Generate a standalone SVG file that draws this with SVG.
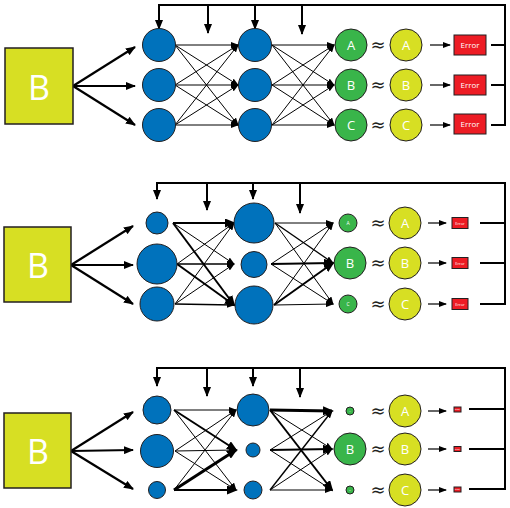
<svg xmlns="http://www.w3.org/2000/svg" width="510" height="508" viewBox="0 0 510 508">
<defs>
<style>
.box{fill:#d7df23;stroke:#231f20;stroke-width:1.5}
.bl{fill:#0072bc;stroke:#231f20;stroke-width:1}
.gr{fill:#39b54a;stroke:#231f20;stroke-width:1}
.ye{fill:#d7df23;stroke:#231f20;stroke-width:1}
.er{fill:#ed1c24;stroke:#231f20;stroke-width:1}
.t{font-family:"Open Sans","Liberation Sans",sans-serif;fill:#ffffff;text-anchor:middle}
.ap{font-family:"DejaVu Sans","Liberation Sans",sans-serif;fill:#231f20;text-anchor:middle;font-size:18px}
.c{stroke:#000;fill:none;stroke-width:1;marker-end:url(#ah)}
.ck{stroke:#000;fill:none;stroke-width:2;marker-end:url(#ahb)}
.cm{stroke:#000;fill:none;stroke-width:1.4;marker-end:url(#ah)}
.cv{stroke:#000;fill:none;stroke-width:3;marker-end:url(#ahb)}
.ba{stroke:#000;fill:none;stroke-width:2.2;marker-end:url(#ahB)}
.fb{stroke:#000;fill:none;stroke-width:2}
.fd{stroke:#000;fill:none;stroke-width:2;marker-end:url(#ahB)}
.sa{stroke:#000;fill:none;stroke-width:1.2;marker-end:url(#ah)}
</style>
<marker id="ah" markerUnits="userSpaceOnUse" markerWidth="8" markerHeight="6" refX="7" refY="3" orient="auto"><path d="M0,0L8,3L0,6z" fill="#000"/></marker>
<marker id="ahb" markerUnits="userSpaceOnUse" markerWidth="11" markerHeight="9" refX="9" refY="4.5" orient="auto"><path d="M0,0L11,4.5L0,9z" fill="#000"/></marker>
<marker id="ahB" markerUnits="userSpaceOnUse" markerWidth="10" markerHeight="8" refX="9" refY="4" orient="auto"><path d="M0,0L10,4L0,8z" fill="#000"/></marker>
</defs>

<g id="connectors">
<!-- Panel 1 -->
<path class="ba" d="M73,86L135,47"/><path class="ba" d="M73,86L135,86"/><path class="ba" d="M73,86L135,125"/>
<path class="c" d="M175,45L238,45"/><path class="c" d="M175,45L238,85"/><path class="c" d="M175,45L238,125"/>
<path class="c" d="M175,85L238,45"/><path class="c" d="M175,85L238,85"/><path class="c" d="M175,85L238,125"/>
<path class="c" d="M175,125L238,45"/><path class="c" d="M175,125L238,85"/><path class="c" d="M175,125L238,125"/>
<path class="c" d="M272,45L334,45"/><path class="c" d="M272,45L334,85"/><path class="c" d="M272,45L334,125"/>
<path class="c" d="M272,85L334,45"/><path class="c" d="M272,85L334,85"/><path class="c" d="M272,85L334,125"/>
<path class="c" d="M272,125L334,45"/><path class="c" d="M272,125L334,85"/><path class="c" d="M272,125L334,125"/>
<path class="sa" d="M430,45L450,45"/><path class="sa" d="M430,85L450,85"/><path class="sa" d="M430,125L450,125"/>
<path class="fb" d="M491,45L505,45M491,85L505,85M491,125L505,125M505,126L505,5L159,5"/>
<path class="fd" d="M159,4L159,29"/><path class="fd" d="M208,5L208,33"/><path class="fd" d="M255,5L255,29"/><path class="fd" d="M302,5L302,34"/>

<!-- Panel 2 -->
<path class="ba" d="M71,265L133,226"/><path class="ba" d="M71,265L133,265"/><path class="ba" d="M71,265L133,304"/>
<path class="ck" d="M173,223L234,223"/><path class="c" d="M173,223L234,264"/><path class="ck" d="M173,223L234,305"/>
<path class="c" d="M177,264L234,223"/><path class="cm" d="M177,264L234,264"/><path class="ck" d="M177,264L234,305"/>
<path class="c" d="M175,304L234,223"/><path class="c" d="M175,304L234,264"/><path class="cm" d="M175,304L234,305"/>
<path class="c" d="M275,223L333,223"/><path class="cm" d="M275,223L333,263"/><path class="c" d="M275,223L333,304"/>
<path class="c" d="M271,264L333,223"/><path class="ck" d="M271,264L333,263"/><path class="c" d="M271,264L333,304"/>
<path class="c" d="M274,305L333,223"/><path class="ck" d="M274,305L333,263"/><path class="c" d="M274,305L333,304"/>
<path class="sa" d="M428,223L446,223"/><path class="sa" d="M428,263L446,263"/><path class="sa" d="M428,304L446,304"/>
<path class="fb" d="M480,223L505,223M480,263L505,263M480,304L505,304M505,305L505,183L157,183"/>
<path class="fd" d="M157,182L157,199"/><path class="fd" d="M207,183L207,210"/><path class="fd" d="M253,183L253,199"/><path class="fd" d="M300,183L300,213"/>

<!-- Panel 3 -->
<path class="ba" d="M71,451L133,412"/><path class="ba" d="M71,451L133,450"/><path class="ba" d="M71,451L133,489"/>
<path class="c" d="M174,410L236,410"/><path class="ck" d="M174,410L236,450"/><path class="c" d="M174,410L236,490"/>
<path class="c" d="M175,451L236,410"/><path class="c" d="M175,451L236,450"/><path class="c" d="M175,451L236,490"/>
<path class="c" d="M174,490L236,410"/><path class="cv" d="M174,490L236,450"/><path class="ck" d="M174,490L236,490"/>
<path class="cv" d="M270,410L332,411"/><path class="c" d="M270,410L332,449"/><path class="ck" d="M270,410L332,490"/>
<path class="c" d="M270,450L332,411"/><path class="ck" d="M270,450L332,449"/><path class="c" d="M270,450L332,490"/>
<path class="cm" d="M270,490L332,411"/><path class="c" d="M270,490L332,449"/><path class="c" d="M270,490L332,490"/>
<path class="sa" d="M428,411L446,411"/><path class="sa" d="M428,449L446,449"/><path class="sa" d="M428,490L446,490"/>
<path class="fb" d="M469,409L505,409M469,449L505,449M469,489L505,489M505,490L505,368L157,368"/>
<path class="fd" d="M157,367L157,386"/><path class="fd" d="M207,368L207,396"/><path class="fd" d="M253,368L253,386"/><path class="fd" d="M300,368L300,397"/>
</g>

<!-- Panel 1 nodes -->
<g id="p1-input"><rect class="box" x="5" y="48" width="68" height="76"/><text class="t" x="39" y="100" font-size="34">B</text></g>
<g id="p1-h1-0"><circle class="bl" cx="159" cy="45" r="16.5"/></g>
<g id="p1-h1-1"><circle class="bl" cx="159" cy="85" r="16.5"/></g>
<g id="p1-h1-2"><circle class="bl" cx="159" cy="125" r="16.5"/></g>
<g id="p1-h2-0"><circle class="bl" cx="255" cy="45" r="16.5"/></g>
<g id="p1-h2-1"><circle class="bl" cx="255" cy="85" r="16.5"/></g>
<g id="p1-h2-2"><circle class="bl" cx="255" cy="125" r="16.5"/></g>
<g id="p1-out-a"><circle class="gr" cx="351" cy="45" r="16"/><text class="t" x="351" y="50" font-size="13">A</text></g>
<g id="p1-out-b"><circle class="gr" cx="351" cy="85" r="16"/><text class="t" x="351" y="90" font-size="13">B</text></g>
<g id="p1-out-c"><circle class="gr" cx="351" cy="125" r="16"/><text class="t" x="351" y="130" font-size="13">C</text></g>
<g id="p1-approx"><text class="ap" x="378" y="51">≈</text><text class="ap" x="378" y="91">≈</text><text class="ap" x="378" y="131">≈</text></g>
<g id="p1-tgt-a"><circle class="ye" cx="406" cy="45" r="16"/><text class="t" x="406" y="50" font-size="13">A</text></g>
<g id="p1-tgt-b"><circle class="ye" cx="406" cy="85" r="16"/><text class="t" x="406" y="90" font-size="13">B</text></g>
<g id="p1-tgt-c"><circle class="ye" cx="406" cy="125" r="16"/><text class="t" x="406" y="130" font-size="13">C</text></g>
<g id="p1-err-a"><rect class="er" x="454" y="35" width="32" height="20"/><text class="t" x="470" y="48" font-size="8">Error</text></g>
<g id="p1-err-b"><rect class="er" x="454" y="75" width="32" height="20"/><text class="t" x="470" y="88" font-size="8">Error</text></g>
<g id="p1-err-c"><rect class="er" x="454" y="114" width="32" height="20"/><text class="t" x="470" y="127" font-size="8">Error</text></g>

<!-- Panel 2 nodes -->
<g id="p2-input"><rect class="box" x="4" y="227" width="67" height="75"/><text class="t" x="38" y="278" font-size="34">B</text></g>
<g id="p2-h1-0"><circle class="bl" cx="157" cy="223" r="11"/></g>
<g id="p2-h1-1"><circle class="bl" cx="157" cy="264" r="20"/></g>
<g id="p2-h1-2"><circle class="bl" cx="157" cy="304" r="17"/></g>
<g id="p2-h2-0"><circle class="bl" cx="254" cy="223" r="20"/></g>
<g id="p2-h2-1"><circle class="bl" cx="254" cy="264.5" r="13"/></g>
<g id="p2-h2-2"><circle class="bl" cx="254" cy="305" r="19"/></g>
<g id="p2-out-a"><circle class="gr" cx="348" cy="223" r="9"/><text class="t" x="348" y="225" font-size="5">A</text></g>
<g id="p2-out-b"><circle class="gr" cx="350" cy="263" r="16"/><text class="t" x="350" y="268" font-size="13">B</text></g>
<g id="p2-out-c"><circle class="gr" cx="348" cy="304" r="9"/><text class="t" x="348" y="306" font-size="5">C</text></g>
<g id="p2-approx"><text class="ap" x="378" y="229">≈</text><text class="ap" x="378" y="269">≈</text><text class="ap" x="378" y="310">≈</text></g>
<g id="p2-tgt-a"><circle class="ye" cx="405" cy="223" r="16"/><text class="t" x="405" y="228" font-size="13">A</text></g>
<g id="p2-tgt-b"><circle class="ye" cx="405" cy="263" r="16"/><text class="t" x="405" y="268" font-size="13">B</text></g>
<g id="p2-tgt-c"><circle class="ye" cx="405" cy="304" r="16"/><text class="t" x="405" y="309" font-size="13">C</text></g>
<g id="p2-err-a"><rect class="er" x="452" y="217.5" width="16" height="11"/><text class="t" x="460" y="224.5" font-size="4">Error</text></g>
<g id="p2-err-b"><rect class="er" x="452" y="257.5" width="16" height="11"/><text class="t" x="460" y="264.5" font-size="4">Error</text></g>
<g id="p2-err-c"><rect class="er" x="452" y="298.5" width="16" height="11"/><text class="t" x="460" y="305.5" font-size="4">Error</text></g>

<!-- Panel 3 nodes -->
<g id="p3-input"><rect class="box" x="4" y="413" width="67" height="75"/><text class="t" x="38" y="464" font-size="34">B</text></g>
<g id="p3-h1-0"><circle class="bl" cx="157" cy="410" r="14"/></g>
<g id="p3-h1-1"><circle class="bl" cx="157" cy="451" r="16.5"/></g>
<g id="p3-h1-2"><circle class="bl" cx="157" cy="490" r="8.5"/></g>
<g id="p3-h2-0"><circle class="bl" cx="253" cy="410" r="16"/></g>
<g id="p3-h2-1"><circle class="bl" cx="253" cy="450" r="7"/></g>
<g id="p3-h2-2"><circle class="bl" cx="253" cy="490" r="9"/></g>
<g id="p3-out-a"><circle class="gr" cx="350" cy="411" r="4"/><text class="t" x="350" y="412" font-size="2.5">A</text></g>
<g id="p3-out-b"><circle class="gr" cx="350" cy="449" r="16"/><text class="t" x="350" y="454" font-size="13">B</text></g>
<g id="p3-out-c"><circle class="gr" cx="350" cy="490" r="4"/><text class="t" x="350" y="491" font-size="2.5">C</text></g>
<g id="p3-approx"><text class="ap" x="378" y="417">≈</text><text class="ap" x="378" y="455">≈</text><text class="ap" x="378" y="496">≈</text></g>
<g id="p3-tgt-a"><circle class="ye" cx="405" cy="411" r="16"/><text class="t" x="405" y="416" font-size="13">A</text></g>
<g id="p3-tgt-b"><circle class="ye" cx="405" cy="449" r="16"/><text class="t" x="405" y="454" font-size="13">B</text></g>
<g id="p3-tgt-c"><circle class="ye" cx="405" cy="490" r="16"/><text class="t" x="405" y="495" font-size="13">C</text></g>
<g id="p3-err-a"><rect class="er" x="454" y="407" width="7" height="5"/><text class="t" x="457.5" y="410.3" font-size="2">Error</text></g>
<g id="p3-err-b"><rect class="er" x="454" y="446.5" width="7" height="5"/><text class="t" x="457.5" y="449.8" font-size="2">Error</text></g>
<g id="p3-err-c"><rect class="er" x="454" y="487" width="7" height="5"/><text class="t" x="457.5" y="490.3" font-size="2">Error</text></g>
</svg>
